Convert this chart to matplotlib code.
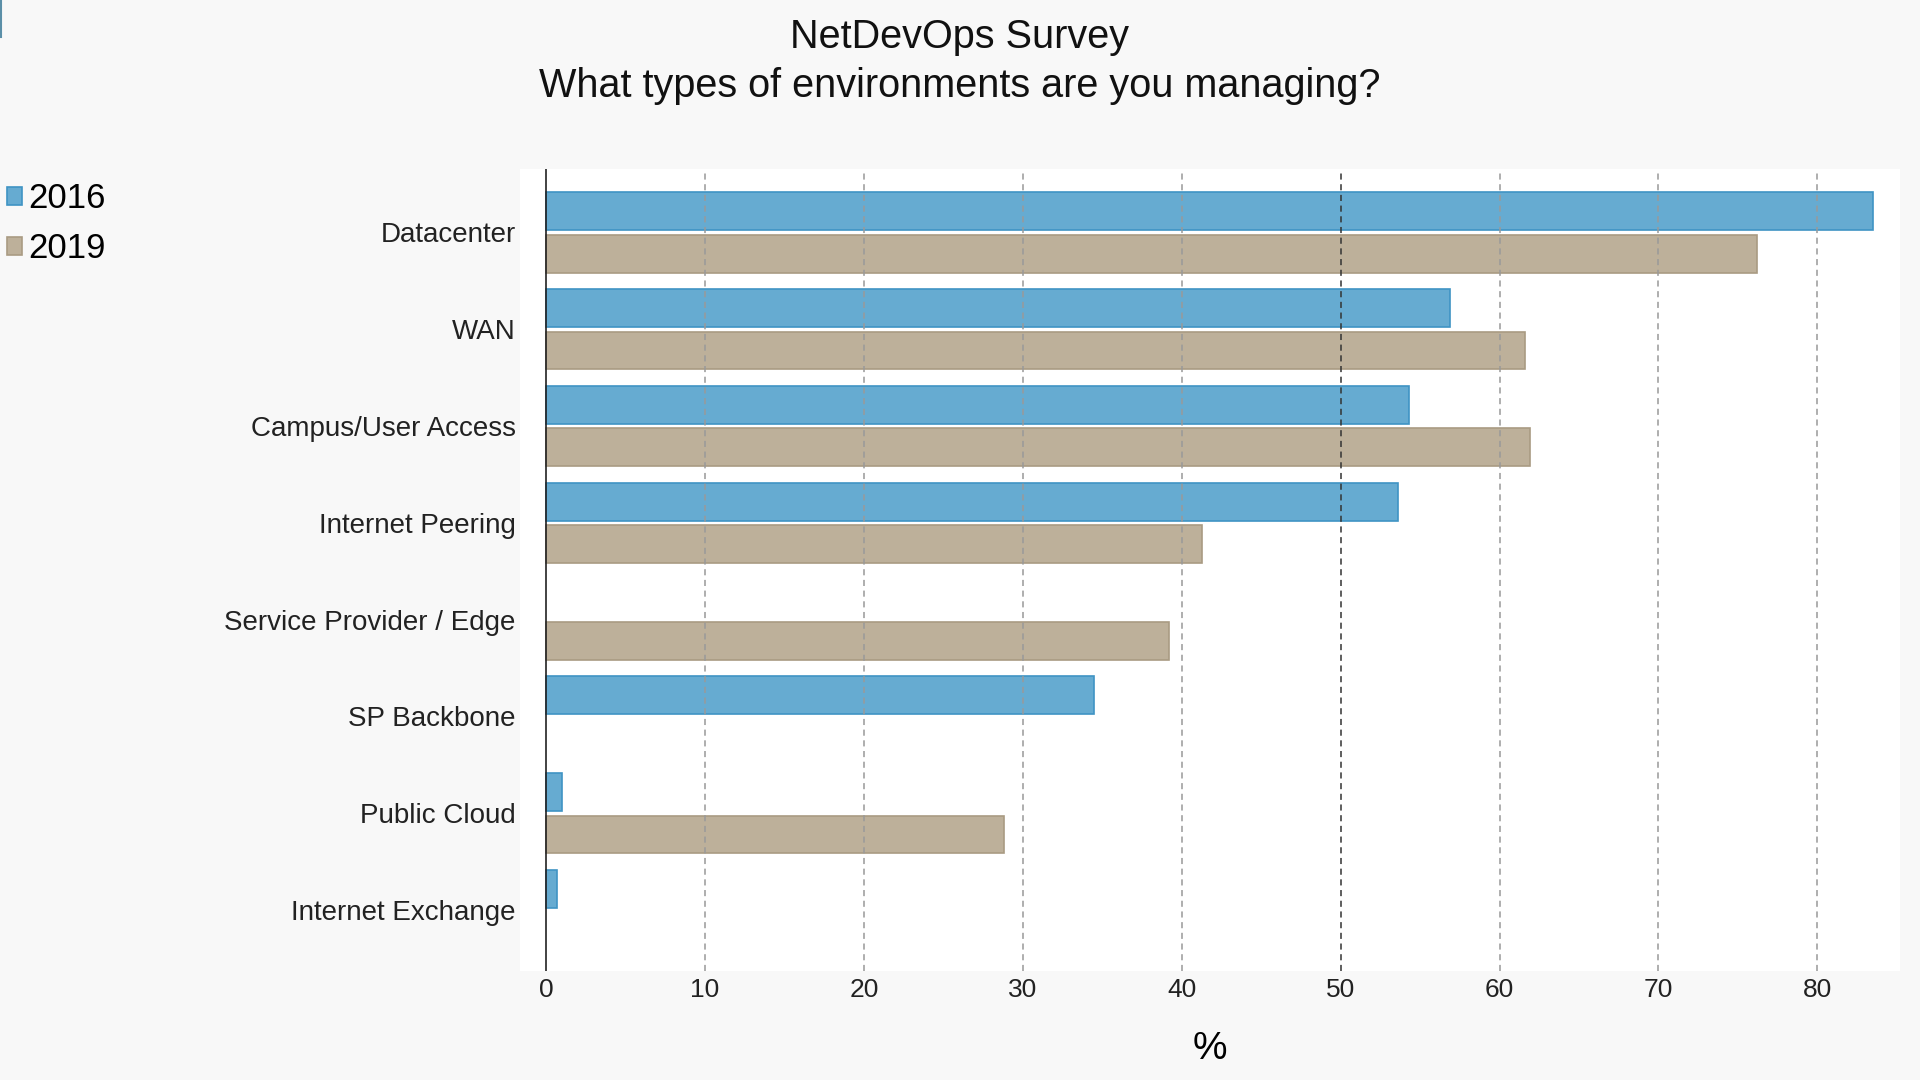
import numpy as np
import matplotlib
matplotlib.use("Agg")
import matplotlib.pyplot as plt
from matplotlib.patches import Patch
from matplotlib.lines import Line2D

plt.rcParams['font.family'] = ['Liberation Sans', 'DejaVu Sans']

categories = ["Datacenter", "WAN", "Campus/User Access", "Internet Peering",
              "Service Provider / Edge", "SP Backbone", "Public Cloud", "Internet Exchange"]
values_2016 = [83.5, 56.9, 54.3, 53.6, np.nan, 34.5, 1.0, 0.7]
values_2019 = [76.2, 61.6, 61.9, 41.3, 39.2, np.nan, 28.8, np.nan]
series_names = ["2016", "2019"]
xticks = [0, 10, 20, 30, 40, 50, 60, 70, 80]

blue_fill, blue_edge = "#66abd1", "#3f94c4"
tan_fill, tan_edge = "#bdb09a", "#a99b83"

fig = plt.figure(figsize=(19.2, 10.8), dpi=100, facecolor="#f8f8f8")
ax = fig.add_axes([0.2708, 0.1009, 0.7188, 0.7426])
ax.set_facecolor("white")

y = np.arange(len(categories))
off = 0.219
h = 0.39
ax.barh(y - off, values_2016, height=h, color=blue_fill, edgecolor=blue_edge, linewidth=1.2, zorder=2)
ax.barh(y + off, values_2019, height=h, color=tan_fill, edgecolor=tan_edge, linewidth=1.2, zorder=2)

ax.set_xlim(-1.65, 85.2)
ax.set_ylim(7.63, -0.655)
ax.set_yticks(y)
ax.set_yticklabels(categories, fontsize=20, color="#222222")
ax.set_xticks(xticks)
ax.set_xticklabels([str(t) for t in xticks], fontsize=19, color="#222222")
ax.tick_params(axis="y", length=0, pad=3)
ax.tick_params(axis="x", length=0, pad=5)

for t in xticks[1:]:
    col = "#333333" if t == 50 else "#999999"
    ax.axvline(t, color=col, linestyle=(0, (4, 3)), linewidth=1.1, zorder=3)
ax.axvline(0, color="#222222", linewidth=1.2, zorder=4)

for s in ax.spines.values():
    s.set_visible(False)

ax.set_xlabel("%", fontsize=28, labelpad=21)

fig.text(0.5, 0.966, "NetDevOps Survey", ha="center", va="center", fontsize=28.5, color="#111111")
fig.text(0.5, 0.9206, "What types of environments are you managing?", ha="center", va="center",
         fontsize=28.5, color="#111111")

handles = [Patch(facecolor=blue_fill, edgecolor=blue_edge, linewidth=1.2),
           Patch(facecolor=tan_fill, edgecolor=tan_edge, linewidth=1.2)]
leg = fig.legend(handles, series_names, loc="upper left", bbox_to_anchor=(0.0, 0.838),
                 frameon=False, fontsize=25, handlelength=0.42, handleheight=0.42,
                 handletextpad=0.2, labelspacing=0.5, borderaxespad=0.0, borderpad=0.2)

fig.add_artist(Line2D([0.0006, 0.0006], [1.0, 0.966], transform=fig.transFigure,
                      color="#5b8fa8", linewidth=1.5))

fig.savefig("out.png", dpi=100, facecolor=fig.get_facecolor())
